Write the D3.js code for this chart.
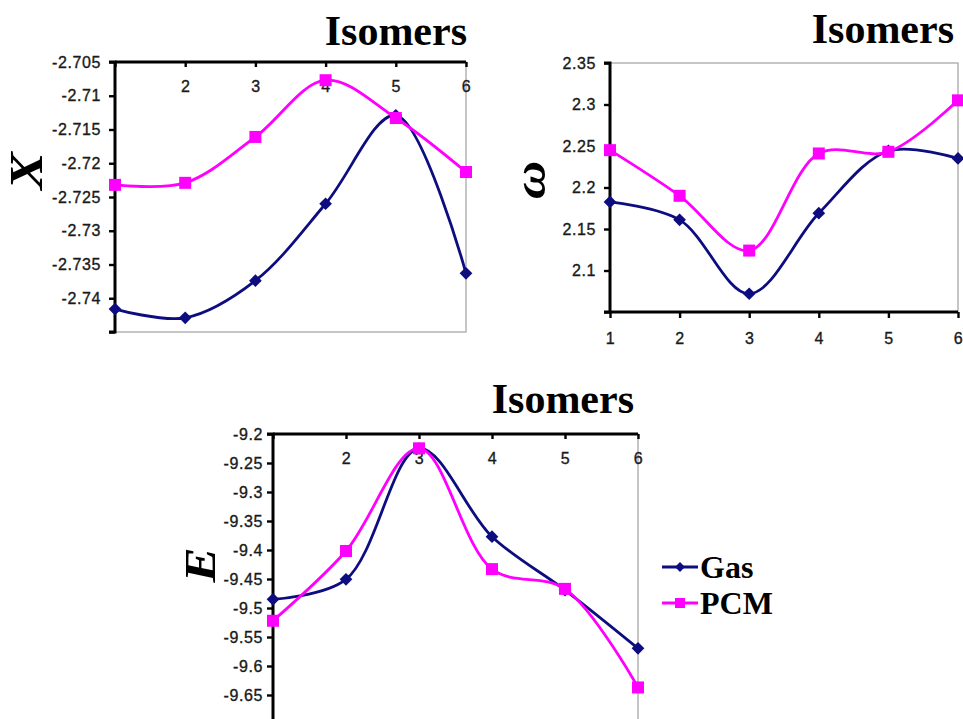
<!DOCTYPE html>
<html lang="en">
<head>
<meta charset="UTF-8">
<title>Isomers - X, omega, E</title>
<script src="https://d3js.org/d3.v7.min.js"></script>
<style>
  body { margin: 0; background: #fff; }
  svg { display: block; }
</style>
</head>
<body>
<svg width="963" height="719"></svg>
<script>
// data
const isomers = [1, 2, 3, 4, 5, 6];

const chiGas = [-2.7416, -2.7429, -2.7374, -2.7260, -2.7129, -2.7363];
const chiPcm = [-2.7232, -2.7229, -2.7161, -2.7077, -2.7133, -2.7213];

const omegaGas = [2.1826, 2.161, 2.072, 2.169, 2.244, 2.235];
const omegaPcm = [2.245, 2.190, 2.124, 2.241, 2.243, 2.305];

const eGas = [-9.485, -9.4505, -9.225, -9.377, -9.469, -9.5695];
const ePcm = [-9.522, -9.4017, -9.2247, -9.433, -9.467, -9.637];

const chiTicks = [-2.745, -2.74, -2.735, -2.73, -2.725, -2.72, -2.715, -2.71, -2.705];
const omegaTicks = [2.05, 2.1, 2.15, 2.2, 2.25, 2.3, 2.35];
const eTicks = [-9.7, -9.65, -9.6, -9.55, -9.5, -9.45, -9.4, -9.35, -9.3, -9.25, -9.2];

const seriesNames = ["Gas", "PCM"];
const gasColor = "#0d0d80", pcmColor = "#ff00ff";

const svg = d3.select("svg");
const fmt = v => String(+v.toFixed(3));

function drawPanel(p) {
  const g = svg.append("g");
  const x = d3.scaleLinear().domain([1, 6]).range([p.left, p.right]);
  const y = d3.scaleLinear().domain(p.domain).range([p.bottom, p.top]);

  // grey plot frame (the sides without an axis)
  g.append("rect")
    .attr("x", p.left).attr("y", p.top)
    .attr("width", p.right - p.left).attr("height", p.bottom - p.top)
    .attr("fill", "none").attr("stroke", "#a8a8a8").attr("stroke-width", 1.3);

  // y axis
  const yAxis = d3.axisLeft(y).tickValues(p.yTicks).tickSize(6).tickPadding(p.yPad)
    .tickFormat(v => p.yHide.includes(v) ? "" : fmt(v));
  const ya = g.append("g").attr("transform", `translate(${p.left},0)`).call(yAxis);

  // x axis, at the top (labels inside the plot) or at the bottom
  const xAxis = d3.axisBottom(x)
    .tickValues(isomers).tickSize(p.xTop ? 5 : 6).tickPadding(p.xTop ? 14 : 15)
    .tickFormat(v => p.xHide.includes(v) ? "" : v);
  const xa = g.append("g")
    .attr("transform", `translate(0,${p.xTop ? p.top : p.bottom})`).call(xAxis);

  [ya, xa].forEach(a => {
    a.select(".domain").attr("stroke", "#000").attr("stroke-width", 3);
    a.selectAll(".tick line").attr("stroke", "#000").attr("stroke-width", 2.4);
    a.selectAll(".tick text")
      .attr("font-family", "'Liberation Sans', Arial, sans-serif")
      .attr("font-size", "16px").attr("letter-spacing", "0.6px")
      .attr("fill", "#1a1a1a").attr("stroke", "#1a1a1a").attr("stroke-width", 0.35);
  });
  ya.select(".domain").attr("d", `M-6,${p.bottom}H0V${p.top}H-6`);
  xa.select(".domain").attr("d", `M${p.left},0H${p.right}`);

  const line = d3.line().x((d, i) => x(isomers[i])).y(d => y(d))
    .curve(d3.curveCatmullRom.alpha(0.5));

  const clip = "clip" + p.id;
  svg.append("clipPath").attr("id", clip).append("rect")
    .attr("x", p.left - 10).attr("y", p.top - 10)
    .attr("width", p.right - p.left + 20).attr("height", p.bottom - p.top + 10);
  const plot = g.append("g").attr("clip-path", `url(#${clip})`);

  plot.append("path").datum(p.gas).attr("d", line)
    .attr("fill", "none").attr("stroke", gasColor).attr("stroke-width", 2.8);
  plot.append("path").datum(p.pcm).attr("d", line)
    .attr("fill", "none").attr("stroke", pcmColor).attr("stroke-width", 2.8);

  plot.selectAll(".gm").data(p.gas).join("path")
    .attr("transform", (d, i) => `translate(${x(isomers[i])},${y(d)}) rotate(45)`)
    .attr("d", "M-4.5,-4.5H4.5V4.5H-4.5Z").attr("fill", gasColor);
  plot.selectAll(".pm").data(p.pcm).join("rect")
    .attr("x", (d, i) => x(isomers[i]) - 6).attr("y", d => y(d) - 6)
    .attr("width", 12).attr("height", 12).attr("fill", pcmColor);

  // title
  svg.append("text").attr("x", p.titleX).attr("y", p.titleY)
    .attr("text-anchor", "end")
    .attr("font-family", "'Liberation Serif', 'Times New Roman', serif")
    .attr("font-weight", "bold").attr("font-size", "42px").text("Isomers");

  // y label
  svg.append("text")
    .attr("transform", `translate(${p.labelX},${p.labelY}) rotate(-90) scale(1.2,1)`)
    .attr("text-anchor", "middle")
    .attr("font-family", "'Liberation Serif', 'Times New Roman', serif")
    .attr("font-weight", "bold").attr("font-style", "italic")
    .attr("font-size", p.labelSize + "px").text(p.label);
}

drawPanel({
  id: 1, left: 115, right: 466, top: 62, bottom: 332,
  domain: [-2.745, -2.705], yTicks: chiTicks, yHide: [-2.745], yPad: 8,
  xTop: true, xHide: [1], gas: chiGas, pcm: chiPcm,
  titleX: 467, titleY: 45, label: "X", labelX: 42, labelY: 171, labelSize: 47
});

drawPanel({
  id: 2, left: 610, right: 958, top: 63, bottom: 312,
  domain: [2.05, 2.35], yTicks: omegaTicks, yHide: [2.05], yPad: 8,
  xTop: false, xHide: [], gas: omegaGas, pcm: omegaPcm,
  titleX: 954, titleY: 43, label: "ω", labelX: 545, labelY: 180, labelSize: 44
});

drawPanel({
  id: 3, left: 273, right: 638, top: 434, bottom: 724,
  domain: [-9.7, -9.2], yTicks: eTicks, yHide: [-9.7], yPad: 4,
  xTop: true, xHide: [1], gas: eGas, pcm: ePcm,
  titleX: 634, titleY: 413, label: "E", labelX: 215, labelY: 565, labelSize: 44
});

// legend
const legend = svg.append("g");
const legendY = [567, 603];
const legendColors = [gasColor, pcmColor];
seriesNames.forEach((name, i) => {
  const row = legend.append("g").attr("transform", `translate(0,${legendY[i]})`);
  row.append("line").attr("x1", 662).attr("x2", 698)
    .attr("stroke", legendColors[i]).attr("stroke-width", 2.8);
  if (i === 0) {
    row.append("path").attr("transform", "translate(680,0) rotate(45)")
      .attr("d", "M-3.5,-3.5H3.5V3.5H-3.5Z").attr("fill", gasColor);
  } else {
    row.append("rect").attr("x", 675).attr("y", -5).attr("width", 10).attr("height", 10)
      .attr("fill", pcmColor);
  }
  row.append("text").attr("x", 700).attr("y", 11)
    .attr("font-family", "'Liberation Serif', 'Times New Roman', serif")
    .attr("font-weight", "bold").attr("font-size", "32px").text(name);
});
</script>
</body>
</html>
